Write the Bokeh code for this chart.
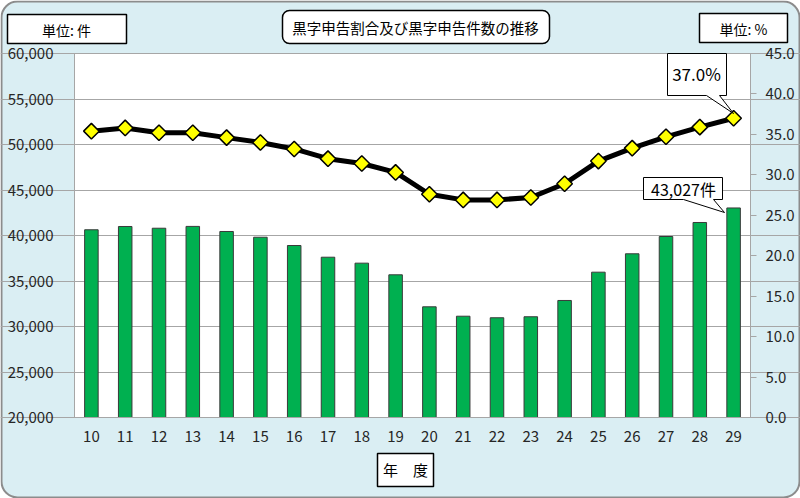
from bokeh.plotting import figure
from bokeh.models import (Range1d, LinearAxis, FixedTicker, NumeralTickFormatter,
                          BoxAnnotation, PolyAnnotation, Label)
from bokeh.embed import file_html
from bokeh.resources import INLINE

# ---- data ----
years = [10, 11, 12, 13, 14, 15, 16, 17, 18, 19, 20, 21, 22, 23, 24, 25, 26, 27, 28, 29]
year_labels = [str(y) for y in years]
counts = [40630, 40990, 40800, 41000, 40440, 39810, 38900, 37615, 36960, 35680,
          32165, 31130, 30960, 31070, 32860, 35970, 37990, 39890, 41430, 43027]
ratios = [35.4, 35.8, 35.2, 35.2, 34.6, 34.0, 33.2, 32.0, 31.4, 30.3,
          27.6, 26.9, 26.9, 27.2, 28.9, 31.7, 33.3, 34.7, 35.9, 37.0]
count_ticks = [20000, 25000, 30000, 35000, 40000, 45000, 50000, 55000, 60000]
ratio_ticks = [0, 5, 10, 15, 20, 25, 30, 35, 40, 45]
title_text = "黒字申告割合及び黒字申告件数の推移"
left_unit = "単位: 件"
right_unit = "単位: %"
x_title = "年　度"
last_ratio_label = "37.0%"
last_count_label = "43,027件"

# ---- layout: frame covers the whole canvas; axes are fixed inside it ----
W, H = 800, 498
FL, FR, FT, FB = 74, 750, 53, 417          # plot-area edges in pixels
X0, X1 = 9.5, 29.5                          # plot-area x limits
Y0, Y1 = 20000, 60000                       # plot-area count limits
P0, P1 = 0, 45                              # plot-area ratio limits

xpp = (X1 - X0) / (FR - FL)
ypp = (Y1 - Y0) / (FB - FT)
ppp = (P1 - P0) / (FB - FT)
XS, XE = X0 - FL * xpp, X1 + (W - FR) * xpp
YS, YE = Y0 - (H - FB) * ypp, Y1 + FT * ypp
PS, PE = P0 - (H - FB) * ppp, P1 + FT * ppp


def dx(px):
    return XS + px * xpp


def dy(py):
    return YE - py * ypp


BG = "#DAEEF3"
GRID = "#A6A6A6"
TXT = "#262626"
FONT = "Noto Sans CJK JP"

p = figure(width=W, height=H, output_backend="svg", toolbar_location=None,
           x_range=Range1d(XS, XE), y_range=Range1d(YS, YE),
           min_border_left=0, min_border_right=0, min_border_top=0, min_border_bottom=0,
           x_axis_location=None, y_axis_location=None)
p.title.visible = False
p.background_fill_color = "white"
p.border_fill_color = "white"
p.outline_line_color = None
p.extra_y_ranges = {"pct": Range1d(PS, PE)}

# chart background (rounded) and plot area
p.add_layout(BoxAnnotation(left=dx(1), right=dx(799), top=dy(1), bottom=dy(497),
                           fill_color=BG, fill_alpha=1, line_color="#8C8C8C", line_alpha=1,
                           line_width=2, border_radius=16, level="image"))
p.add_layout(BoxAnnotation(left=X0, right=X1, top=Y1, bottom=Y0,
                           fill_color="white", fill_alpha=1, line_color=None,
                           level="image"))

# axes
def style_axis(ax):
    ax.major_tick_in = 0
    ax.minor_tick_out = 0
    ax.minor_tick_in = 0
    ax.axis_line_color = GRID
    ax.major_tick_line_color = GRID
    ax.major_label_text_font = FONT
    ax.major_label_text_font_size = "15px"
    ax.major_label_text_color = TXT


ya = LinearAxis(ticker=FixedTicker(ticks=count_ticks),
                formatter=NumeralTickFormatter(format="0,0"),
                fixed_location=X0, bounds=(Y0, Y1))
style_axis(ya)
ya.major_tick_out = 6
ya.major_label_standoff = 15
p.add_layout(ya, "left")

ra = LinearAxis(y_range_name="pct", ticker=FixedTicker(ticks=ratio_ticks),
                formatter=NumeralTickFormatter(format="0.0"),
                fixed_location=X1, bounds=(P0, P1))
style_axis(ra)
ra.major_tick_out = 6
ra.major_label_standoff = 9
p.add_layout(ra, "right")

xa = LinearAxis(ticker=FixedTicker(ticks=years), fixed_location=Y0,
                bounds=(dx(68), X1))
style_axis(xa)
xa.major_label_overrides = {y: l for y, l in zip(years, year_labels)}
xa.major_tick_out = 0
xa.major_label_standoff = 13
p.add_layout(xa, "below")

p.xgrid.visible = False
p.ygrid.visible = False
from bokeh.models import Grid
g = Grid(dimension=1, ticker=FixedTicker(ticks=count_ticks), bounds=(X0, X1),
         grid_line_color=GRID, grid_line_width=1)
p.add_layout(g)

# bars
p.vbar(x=years, top=counts, bottom=Y0, width=0.4, fill_color="#00B050",
       line_color="#3A3A3A", line_width=1)

# line
p.line(years, ratios, y_range_name="pct", line_color="black", line_width=5)
p.scatter(years, ratios, y_range_name="pct", marker="square", angle=0.785,
          size=11, fill_color="#FFFF00", line_color="black", line_width=1.5)


def box(l, t, r, b, radius=0):
    p.add_layout(BoxAnnotation(left=dx(l), right=dx(r), top=dy(t), bottom=dy(b),
                               fill_color="white", fill_alpha=1, line_color="black",
                               line_width=1.5, line_alpha=1, border_radius=radius,
                               level="overlay"))


def label(cx, cy, text, size):
    p.add_layout(Label(x=dx(cx), y=dy(cy), text=text, text_align="center",
                       text_baseline="middle", text_font=FONT,
                       text_font_size=size, text_color="black", level="overlay"))


def callout(pts):
    p.add_layout(PolyAnnotation(xs=[dx(a) for a, _ in pts], ys=[dy(b) for _, b in pts],
                                fill_color="white", fill_alpha=1, line_color="black",
                                line_alpha=1, line_width=1, level="overlay"))


box(7, 14, 126, 43)
box(282, 10, 549, 43, radius=7)
box(699, 13, 787, 42)
box(377, 453, 433, 486)
callout([(667, 53), (726, 53), (726, 95), (719, 95), (733, 113), (706, 95), (667, 95)])
callout([(643, 177), (722, 177), (722, 199), (713, 199), (724, 212), (683, 199), (643, 199)])

label(66, 29, left_unit, "14px")
label(415, 27, title_text, "14.5px")
label(743, 28, right_unit, "14px")
label(405, 469, x_title, "15px")
label(696, 73, last_ratio_label, "17px")
label(683, 188, last_count_label, "16px")

open("out.html", "w").write(file_html(p, INLINE))
